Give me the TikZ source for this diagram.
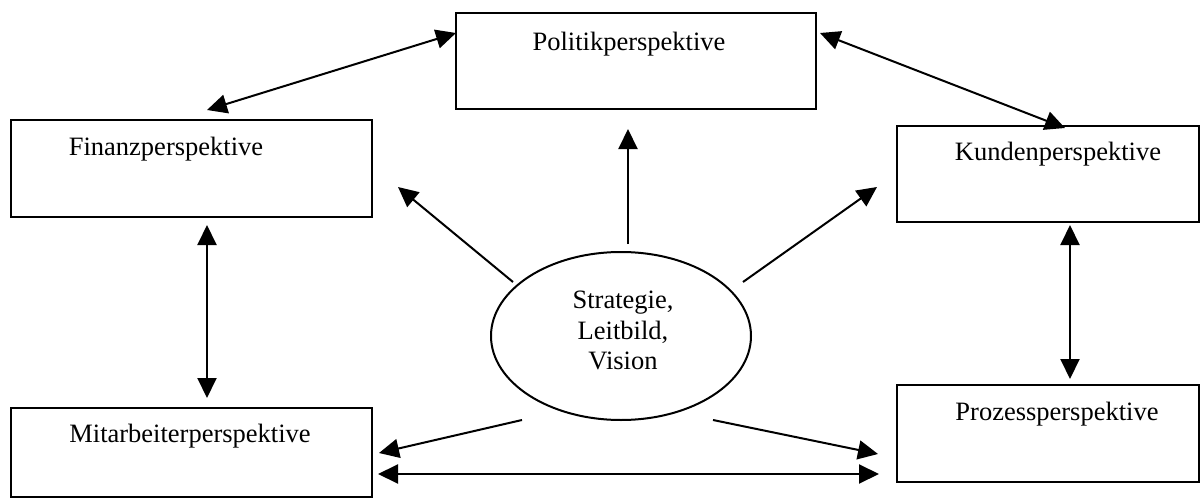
\documentclass[tikz,border=0pt]{standalone}
\usepackage{fontspec}
\setmainfont{Liberation Serif}
\usetikzlibrary{arrows.meta,shapes.geometric}
\begin{document}
\begin{tikzpicture}[x=0.5pt,y=-0.5pt,
  box/.style={draw,line width=1pt,inner sep=0pt,outer sep=0pt,anchor=north west},
  txt/.style={inner sep=0pt,anchor=base,font=\fontsize{13.25pt}{15.25pt}\selectfont},
  oval/.style={draw,ellipse,line width=1pt,inner sep=0pt,outer sep=0pt,minimum width=130pt,minimum height=84pt},
  tip/.tip={Triangle[length=10pt,width=9.5pt]},
  con/.style={line width=1pt,-tip},
  dcon/.style={line width=1pt,tip-tip}]
\useasboundingbox (0,0) rectangle (1201,498);
% boxes
\node[box,minimum width=180pt,minimum height=48pt] (pol) at (456,13) {};
\node[box,minimum width=180.5pt,minimum height=48.5pt] (fin) at (11,120) {};
\node[box,minimum width=151pt,minimum height=48pt] (kun) at (897,126) {};
\node[box,minimum width=180.5pt,minimum height=44.5pt] (mit) at (11,408) {};
\node[box,minimum width=151pt,minimum height=48.5pt] (pro) at (897,385) {};
% texts
\node[txt] (polt) at (629,50) {Politikperspektive};
\node[txt] (fint) at (166,155) {Finanzperspektive};
\node[txt] (kunt) at (1058,160) {Kundenperspektive};
\node[txt] (mitt) at (190,442) {Mitarbeiterperspektive};
\node[txt] (prot) at (1057,420) {Prozessperspektive};
% ellipse
\node[oval] (ell) at (621,336) {};
\node[txt,anchor=center,align=center] (ellt) at (623,330.5) {Strategie,\\Leitbild,\\Vision};
% connector ends
\coordinate (fpA) at (207,110);
\coordinate (fpB) at (456,33);
\coordinate (pkA) at (820,33);
\coordinate (pkB) at (1065,128);
\coordinate (eN) at (628,244);
\coordinate (pN) at (628,129);
\coordinate (eNW) at (513,282);
\coordinate (fT) at (398,187);
\coordinate (eNE) at (743,282);
\coordinate (kT) at (877,187);
\coordinate (eSW) at (522,420);
\coordinate (mT) at (379,453);
\coordinate (eSE) at (713,420);
\coordinate (pT) at (878,454);
\coordinate (mpA) at (378,474);
\coordinate (mpB) at (879,474);
\coordinate (fmA) at (207,225);
\coordinate (fmB) at (207,398);
\coordinate (kpA) at (1070,225);
\coordinate (kpB) at (1070,379);
% connectors
\draw[dcon] (fpA) -- (fpB);
\draw[dcon] (pkA) -- (pkB);
\draw[con] (eN) -- (pN);
\draw[con] (eNW) -- (fT);
\draw[con] (eNE) -- (kT);
\draw[con] (eSW) -- (mT);
\draw[con] (eSE) -- (pT);
\draw[dcon] (mpA) -- (mpB);
\draw[dcon] (fmA) -- (fmB);
\draw[dcon] (kpA) -- (kpB);
\end{tikzpicture}
\end{document}
